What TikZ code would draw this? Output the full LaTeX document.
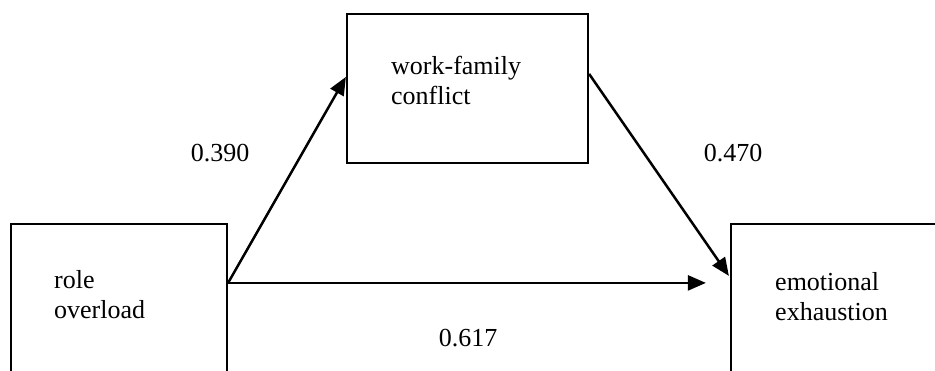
\documentclass[tikz,border=0pt]{standalone}
\usepackage{fontspec}
\setmainfont{Liberation Serif}
\usetikzlibrary{arrows.meta,calc}
\begin{document}
\begin{tikzpicture}[x=1pt,y=-1pt,
  boxshape/.style={draw=black,line width=2.2pt,rectangle,inner sep=0pt},
  txt/.style={inner sep=0pt,align=left,anchor=west,font=\fontsize{26}{30}\selectfont},
  num/.style={inner sep=0pt,font=\fontsize{26}{30}\selectfont},
  arr/.style={line width=2.5pt,-{Triangle[length=18pt,width=15pt]}}]
\useasboundingbox[fill=white] (0,0) rectangle (935,370);
\clip (0,0) rectangle (935,370);
\node[boxshape,minimum width=216pt,minimum height=200pt] (lb) at (119,324) {};
\node[boxshape,minimum width=241pt,minimum height=149pt] (tb) at (467.5,88.5) {};
\node[boxshape,minimum width=240pt,minimum height=200pt] (rb) at (851,324) {};
\node[txt] (lt) at (54,295) {role\\overload};
\node[txt] (tt) at (391,80) {work-family\\conflict};
\node[txt] (rt) at (775,297) {emotional\\exhaustion};
\coordinate (src) at ($(lb.north east)+(0,60)$);
\coordinate (tin) at ($(tb.north west)+(0,64)$);
\coordinate (tout) at ($(tb.north east)+(0,61)$);
\coordinate (rin) at ($(rb.north west)+(-1,53)$);
\coordinate (hend) at ($(rb.north west)+(-24,60)$);
\draw[arr] (src) -- (tin);
\draw[arr] (tout) -- (rin);
\draw[arr] (src) -- (hend);
\node[num] (n1) at (220,153) {0.390};
\node[num] (n2) at (733,153) {0.470};
\node[num] (n3) at (468,338) {0.617};
\end{tikzpicture}
\end{document}
